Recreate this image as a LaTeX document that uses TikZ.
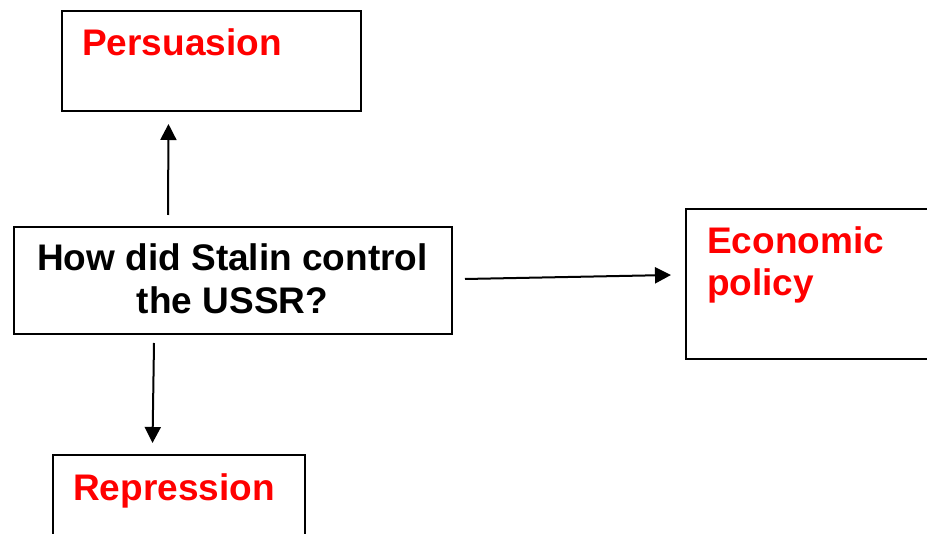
\documentclass[tikz,border=0pt]{standalone}
\usepackage{fontspec}
\setmainfont{Liberation Sans}
\usetikzlibrary{arrows.meta}
\begin{document}
\begin{tikzpicture}[x=1pt,y=-1pt,
  boxstyle/.style={draw=black,line width=2pt,rectangle,inner sep=0pt},
  redtext/.style={text=red,font=\fontsize{37}{42}\selectfont\bfseries,inner sep=0pt},
  blacktext/.style={text=black,font=\fontsize{37}{43}\selectfont\bfseries,inner sep=0pt},
  arr/.style={line width=2pt,-{Triangle[length=16pt,width=16pt]}}]
\useasboundingbox (0,0) rectangle (927,534);
\clip (0,0) rectangle (927,534);
\fill[white] (0,0) rectangle (927,534);
% boxes
\node[boxstyle,minimum width=299pt,minimum height=100pt,anchor=north west] (pers) at (60.5,10) {};
\node[boxstyle,minimum width=438pt,minimum height=107pt,anchor=north west] (cent) at (13,226) {};
\node[boxstyle,minimum width=260pt,minimum height=150pt,anchor=north west] (econ) at (685,208) {};
\node[boxstyle,minimum width=252pt,minimum height=120pt,anchor=north west] (repr) at (51.5,454) {};
% texts
\node[redtext,anchor=base west] (perst) at (82,56) {Persuasion};
\node[blacktext,align=center,anchor=base] (centt) at (232.5,314) {How did Stalin control\\the USSR?};
\node[redtext,align=left,anchor=base west] (econt) at (707,296) {Economic\\policy};
\node[redtext,anchor=base west] (reprt) at (73,501) {Repression};
% connectors
\draw[arr] ([xshift=-65pt,yshift=11pt]cent.north) -- ([xshift=-42.5pt,yshift=-12pt]pers.south);
\draw[arr] ([xshift=12pt,yshift=1.5pt]cent.east) -- ([xshift=-14pt,yshift=9pt]econ.west);
\draw[arr] ([xshift=-79pt,yshift=-8pt]cent.south) -- ([xshift=-26pt,yshift=11pt]repr.north);
\end{tikzpicture}
\end{document}
